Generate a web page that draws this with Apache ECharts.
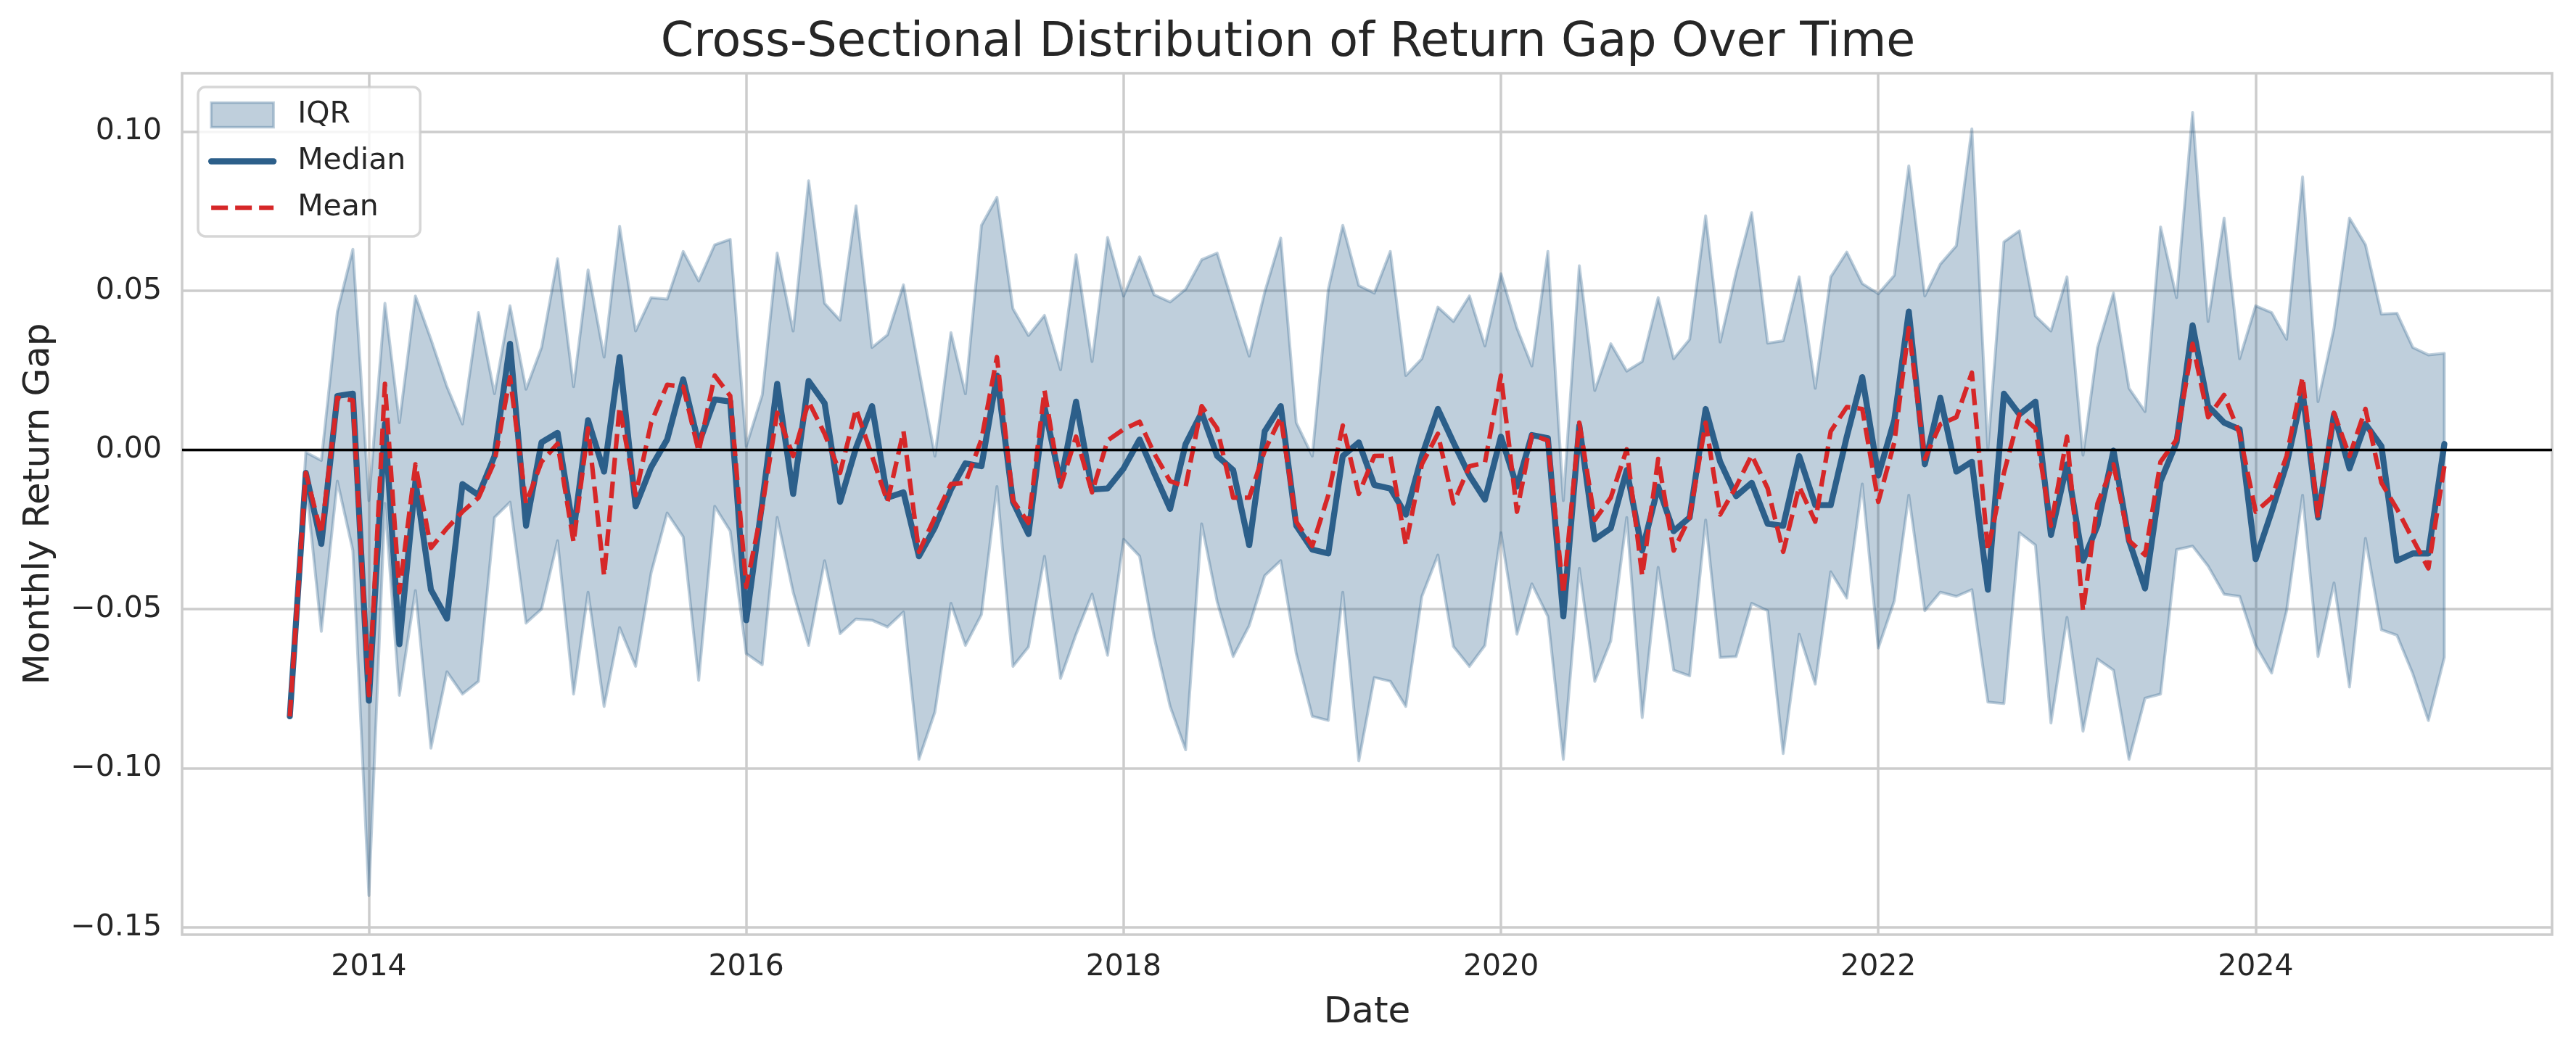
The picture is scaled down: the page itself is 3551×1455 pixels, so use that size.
<!DOCTYPE html>
<html>
<head>
<meta charset="utf-8">
<script src="https://cdn.jsdelivr.net/npm/echarts@6/dist/echarts.min.js"></script>
<style>
html,body{margin:0;padding:0;background:#ffffff;}
#chart{width:3551px;height:1455px;}
</style>
</head>
<body>
<div id="chart"></div>
<script>
// ---------------- DATA ----------------
const dates = [
  '2013-08','2013-09','2013-10','2013-11','2013-12',
  '2014-01','2014-02','2014-03','2014-04','2014-05','2014-06','2014-07','2014-08','2014-09','2014-10','2014-11','2014-12',
  '2015-01','2015-02','2015-03','2015-04','2015-05','2015-06','2015-07','2015-08','2015-09','2015-10','2015-11','2015-12',
  '2016-01','2016-02','2016-03','2016-04','2016-05','2016-06','2016-07','2016-08','2016-09','2016-10','2016-11','2016-12',
  '2017-01','2017-02','2017-03','2017-04','2017-05','2017-06','2017-07','2017-08','2017-09','2017-10','2017-11','2017-12',
  '2018-01','2018-02','2018-03','2018-04','2018-05','2018-06','2018-07','2018-08','2018-09','2018-10','2018-11','2018-12',
  '2019-01','2019-02','2019-03','2019-04','2019-05','2019-06','2019-07','2019-08','2019-09','2019-10','2019-11','2019-12',
  '2020-01','2020-02','2020-03','2020-04','2020-05','2020-06','2020-07','2020-08','2020-09','2020-10','2020-11','2020-12',
  '2021-01','2021-02','2021-03','2021-04','2021-05','2021-06','2021-07','2021-08','2021-09','2021-10','2021-11','2021-12',
  '2022-01','2022-02','2022-03','2022-04','2022-05','2022-06','2022-07','2022-08','2022-09','2022-10','2022-11','2022-12',
  '2023-01','2023-02','2023-03','2023-04','2023-05','2023-06','2023-07','2023-08','2023-09','2023-10','2023-11','2023-12',
  '2024-01','2024-02','2024-03','2024-04','2024-05','2024-06','2024-07','2024-08','2024-09','2024-10','2024-11','2024-12',
  '2025-01'
];

const median = [
  -0.0837,-0.0072,-0.0295,0.0170,0.0177,
  -0.0788,0.0082,-0.0610,-0.0098,-0.0439,-0.0530,-0.0107,-0.0142,-0.0019,0.0334,-0.0238,0.0024,
  0.0054,-0.0255,0.0094,-0.0068,0.0292,-0.0177,-0.0054,0.0033,0.0222,0.0019,0.0159,0.0152,
  -0.0535,-0.0165,0.0208,-0.0138,0.0217,0.0147,-0.0163,0.0007,0.0138,-0.0150,-0.0133,-0.0334,
  -0.0243,-0.0124,-0.0042,-0.0051,0.0234,-0.0163,-0.0264,0.0135,-0.0103,0.0152,-0.0124,-0.0121,
  -0.0058,0.0033,-0.0072,-0.0185,0.0019,0.0117,-0.0019,-0.0063,-0.0299,0.0059,0.0138,-0.0238,
  -0.0313,-0.0325,-0.0019,0.0024,-0.0110,-0.0121,-0.0203,-0.0019,0.0129,0.0024,-0.0080,-0.0156,
  0.0042,-0.0115,0.0047,0.0037,-0.0523,0.0077,-0.0281,-0.0246,-0.0063,-0.0316,-0.0115,-0.0255,
  -0.0212,0.0129,-0.0037,-0.0145,-0.0103,-0.0232,-0.0238,-0.0019,-0.0173,-0.0173,0.0042,0.0229,
  -0.0080,0.0094,0.0435,-0.0045,0.0164,-0.0068,-0.0037,-0.0439,0.0177,0.0112,0.0152,-0.0267,
  -0.0045,-0.0348,-0.0238,-0.0002,-0.0285,-0.0435,-0.0098,0.0024,0.0392,0.0138,0.0086,0.0065,
  -0.0343,-0.0194,-0.0045,0.0182,-0.0212,0.0112,-0.0058,0.0082,0.0012,-0.0348,-0.0325,-0.0325,
  0.0019
];

const mean = [
  -0.0837,-0.0072,-0.0264,0.0164,0.0156,
  -0.0770,0.0208,-0.0447,-0.0045,-0.0308,-0.0246,-0.0194,-0.0150,-0.0037,0.0229,-0.0168,-0.0037,
  0.0020,-0.0290,0.0068,-0.0395,0.0135,-0.0142,0.0086,0.0205,0.0199,-0.0005,0.0234,0.0170,
  -0.0430,-0.0180,0.0117,-0.0019,0.0152,0.0051,-0.0072,0.0129,-0.0019,-0.0163,0.0059,-0.0320,
  -0.0212,-0.0107,-0.0103,0.0033,0.0292,-0.0159,-0.0229,0.0187,-0.0115,0.0042,-0.0133,0.0030,
  0.0065,0.0089,-0.0010,-0.0098,-0.0115,0.0138,0.0068,-0.0150,-0.0150,-0.0002,0.0103,-0.0225,
  -0.0302,-0.0142,0.0077,-0.0138,-0.0019,-0.0018,-0.0299,-0.0045,0.0051,-0.0168,-0.0051,-0.0040,
  0.0234,-0.0194,0.0047,0.0030,-0.0453,0.0086,-0.0220,-0.0150,0.0002,-0.0395,-0.0028,-0.0316,
  -0.0212,0.0086,-0.0203,-0.0115,-0.0016,-0.0121,-0.0320,-0.0115,-0.0225,0.0059,0.0135,0.0129,
  -0.0163,0.0024,0.0383,-0.0028,0.0081,0.0103,0.0243,-0.0316,-0.0072,0.0112,0.0068,-0.0238,
  0.0042,-0.0505,-0.0168,-0.0045,-0.0285,-0.0330,-0.0037,0.0033,0.0334,0.0103,0.0173,0.0051,
  -0.0194,-0.0150,-0.0019,0.0229,-0.0212,0.0117,-0.0019,0.0129,-0.0103,-0.0185,-0.0281,-0.0372,
  -0.0051
];

const q75 = [
  -0.0837,-0.0007,-0.0033,0.0435,0.0631,
  -0.0159,0.0461,0.0086,0.0484,0.0348,0.0199,0.0082,0.0432,0.0177,0.0453,0.0191,0.0322,
  0.0601,0.0199,0.0566,0.0292,0.0703,0.0374,0.0479,0.0474,0.0624,0.0531,0.0645,0.0662,
  0.0012,0.0173,0.0619,0.0374,0.0846,0.0461,0.0408,0.0767,0.0322,0.0362,0.0519,0.0252,
  -0.0019,0.0369,0.0177,0.0706,0.0794,0.0444,0.0360,0.0423,0.0252,0.0614,0.0278,0.0668,
  0.0484,0.0607,0.0488,0.0465,0.0505,0.0598,0.0619,0.0456,0.0295,0.0496,0.0666,0.0086,
  -0.0019,0.0505,0.0706,0.0517,0.0493,0.0624,0.0234,0.0287,0.0449,0.0404,0.0484,0.0327,
  0.0554,0.0383,0.0264,0.0624,-0.0159,0.0579,0.0187,0.0334,0.0248,0.0278,0.0479,0.0287,
  0.0348,0.0736,0.0339,0.0558,0.0746,0.0336,0.0343,0.0544,0.0194,0.0544,0.0622,0.0523,
  0.0491,0.0549,0.0893,0.0484,0.0584,0.0642,0.1009,0.0002,0.0654,0.0689,0.0421,0.0374,
  0.0544,-0.0016,0.0322,0.0493,0.0194,0.0121,0.0701,0.0479,0.1061,0.0404,0.0729,0.0287,
  0.0453,0.0432,0.0348,0.0858,0.0152,0.0383,0.0729,0.0645,0.0427,0.0430,0.0322,0.0299,
  0.0304
];

const q25 = [
  -0.0837,-0.0098,-0.0570,-0.0098,-0.0316,
  -0.1400,-0.0168,-0.0771,-0.0442,-0.0937,-0.0697,-0.0767,-0.0727,-0.0212,-0.0164,-0.0544,-0.0500,
  -0.0285,-0.0767,-0.0447,-0.0806,-0.0558,-0.0680,-0.0386,-0.0198,-0.0273,-0.0724,-0.0177,-0.0255,
  -0.0640,-0.0675,-0.0212,-0.0447,-0.0614,-0.0348,-0.0577,-0.0531,-0.0535,-0.0556,-0.0509,-0.0972,
  -0.0823,-0.0482,-0.0614,-0.0517,-0.0115,-0.0680,-0.0619,-0.0334,-0.0718,-0.0579,-0.0453,-0.0645,
  -0.0281,-0.0334,-0.0587,-0.0806,-0.0942,-0.0232,-0.0477,-0.0649,-0.0552,-0.0395,-0.0348,-0.0640,
  -0.0837,-0.0850,-0.0447,-0.0977,-0.0715,-0.0727,-0.0806,-0.0460,-0.0330,-0.0617,-0.0680,-0.0614,
  -0.0260,-0.0579,-0.0421,-0.0523,-0.0972,-0.0372,-0.0727,-0.0600,-0.0212,-0.0841,-0.0369,-0.0692,
  -0.0710,-0.0220,-0.0652,-0.0649,-0.0482,-0.0505,-0.0954,-0.0579,-0.0736,-0.0383,-0.0465,-0.0107,
  -0.0622,-0.0474,-0.0142,-0.0505,-0.0447,-0.0460,-0.0439,-0.0792,-0.0797,-0.0260,-0.0299,-0.0858,
  -0.0526,-0.0884,-0.0657,-0.0692,-0.0972,-0.0780,-0.0767,-0.0313,-0.0302,-0.0365,-0.0453,-0.0460,
  -0.0614,-0.0701,-0.0505,-0.0142,-0.0649,-0.0418,-0.0745,-0.0278,-0.0565,-0.0582,-0.0704,-0.0850,
  -0.0652
];

const xTicks = [2014, 2016, 2018, 2020, 2022, 2024];
const yTicks = [-0.15, -0.10, -0.05, 0.00, 0.05, 0.10];

// ---------------- HELPERS ----------------
function decYear(s) {
  const p = s.split('-').map(Number);
  const y = p[0], m = p[1];
  const t0 = Date.UTC(y, 0, 1), t1 = Date.UTC(y + 1, 0, 1);
  return y + (Date.UTC(y, m - 1, 1) - t0) / (t1 - t0);
}
const xs = dates.map(decYear);
const xSpan = xs[xs.length - 1] - xs[0];
const xMin = xs[0] - 0.05 * xSpan;
const xMax = xs[xs.length - 1] + 0.05 * xSpan;
const lo = Math.min.apply(null, q25.concat(median, mean));
const hi = Math.max.apply(null, q75.concat(median, mean));
const ySpan = hi - lo;
const yMin = lo - 0.05 * ySpan;
const yMax = hi + 0.05 * ySpan;

const fmtY = v => (v < -1e-9 ? '\u2212' : '') + Math.abs(v).toFixed(2);

const TXT = '#262626';
const FONT = 'DejaVu Sans';
const BAND = 'rgba(44,95,138,0.3)';

const chart = echarts.init(document.getElementById('chart'), null, {renderer: 'canvas'});

const option = {
  animation: false,
  backgroundColor: '#ffffff',
  title: {
    text: 'Cross-Sectional Distribution of Return Gap Over Time',
    left: 'center',
    top: 28,
    padding: [0, 0, 0, 217],
    textStyle: {fontFamily: FONT, fontSize: 65, fontWeight: 'normal', color: TXT}
  },
  legend: {
    orient: 'vertical',
    left: 273,
    top: 120,
    padding: [18, 20, 19, 14],
    itemWidth: 86,
    itemHeight: 34,
    itemGap: 23,
    backgroundColor: 'rgba(255,255,255,0.8)',
    borderColor: 'rgba(204,204,204,0.8)',
    borderWidth: 3.5,
    borderRadius: 10,
    textStyle: {fontFamily: FONT, fontSize: 41, color: TXT, padding: [0, 0, 0, 28], lineHeight: 34},
    data: [
      {name: 'IQR', icon: 'rect', itemStyle: {color: BAND, borderColor: BAND, borderWidth: 3.5}},
      {name: 'Median', itemStyle: {opacity: 0}, lineStyle: {width: 8.3, color: '#2c5f8a', cap: 'round'}},
      {name: 'Mean', itemStyle: {opacity: 0}, lineStyle: {width: 6.25, color: '#d62728', type: [23, 10]}}
    ]
  },
  grid: {
    left: 251, right: 33, top: 101, bottom: 166,
    show: true, borderColor: '#cccccc', borderWidth: 3.5, backgroundColor: 'transparent',
    containLabel: false
  },
  xAxis: {
    type: 'value',
    min: xMin, max: xMax,
    axisLine: {show: false},
    axisTick: {show: false, customValues: xTicks},
    axisLabel: {
      customValues: xTicks,
      formatter: v => String(Math.round(v)),
      fontFamily: FONT, fontSize: 41, color: TXT, margin: 25
    },
    splitLine: {show: true, lineStyle: {color: '#cccccc', width: 3.5}},
    name: 'Date',
    nameLocation: 'middle',
    nameGap: 83,
    nameTextStyle: {fontFamily: FONT, fontSize: 50, color: TXT}
  },
  yAxis: {
    type: 'value',
    min: yMin, max: yMax,
    axisLine: {show: false},
    axisTick: {show: false, customValues: yTicks},
    axisLabel: {
      customValues: yTicks,
      formatter: fmtY,
      fontFamily: FONT, fontSize: 41, color: TXT, margin: 28
    },
    splitLine: {show: true, lineStyle: {color: '#cccccc', width: 3.5}},
    name: 'Monthly Return Gap',
    nameLocation: 'middle',
    nameGap: 172,
    nameRotate: 90,
    nameTextStyle: {fontFamily: FONT, fontSize: 50, color: TXT}
  },
  series: [
    {
      name: 'IQR',
      type: 'custom',
      z: 2,
      silent: true,
      itemStyle: {color: BAND},
      encode: {x: 0, y: [1, 2]},
      data: xs.map((x, i) => [x, q25[i], q75[i]]),
      renderItem: function (params, api) {
        if (params.dataIndex !== 0) return null;
        const upper = [], lower = [];
        for (let i = 0; i < xs.length; i++) {
          upper.push(api.coord([xs[i], q75[i]]));
          lower.push(api.coord([xs[i], q25[i]]));
        }
        const pts = upper.concat(lower.reverse());
        return {
          type: 'polygon',
          shape: {points: pts},
          style: {fill: BAND, stroke: BAND, lineWidth: 4, lineJoin: 'round'}
        };
      }
    },
    {
      name: 'Median',
      type: 'line',
      z: 3,
      symbol: 'none',
      color: '#2c5f8a',
      lineStyle: {color: '#2c5f8a', width: 8.3, cap: 'round', join: 'round'},
      data: xs.map((x, i) => [x, median[i]])
    },
    {
      name: 'Mean',
      type: 'line',
      z: 4,
      symbol: 'none',
      color: '#d62728',
      lineStyle: {color: '#d62728', width: 6.25, type: [23, 10], cap: 'butt', join: 'round'},
      data: xs.map((x, i) => [x, mean[i]]),
      markLine: {
        silent: true,
        symbol: 'none',
        label: {show: false},
        lineStyle: {color: '#000000', width: 3.3, type: 'solid'},
        emphasis: {disabled: true},
        data: [{yAxis: 0}]
      }
    }
  ]
};
chart.setOption(option);
</script>
</body>
</html>
